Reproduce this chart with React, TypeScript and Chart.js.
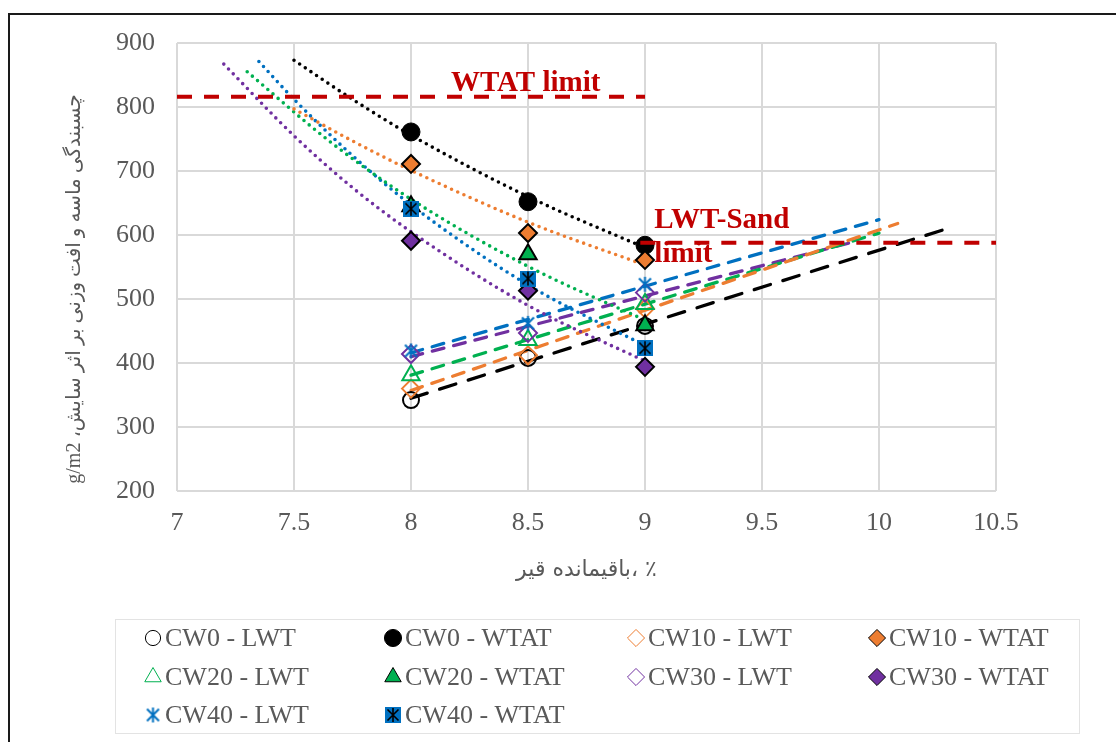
import React, { useEffect, useRef } from 'react';
import { Chart, registerables } from 'chart.js';
import { drawPoint } from 'chart.js/helpers';

Chart.register(...registerables);

const W = 1116;
const H = 742;

// ---- data ----
const xLevels = [8, 8.5, 9];
const cw0LWT = [342, 408, 458];
const cw0WTAT = [761, 652, 584];
const cw10LWT = [360, 412, 485];
const cw10WTAT = [711, 603, 561];
const cw20LWT = [381, 436, 492];
const cw20WTAT = [645, 570, 459];
const cw30LWT = [414, 447, 510];
const cw30WTAT = [591, 513, 394];
const cw40LWT = [419, 462, 523];
const cw40WTAT = [641, 532, 423];

// trend lines as they appear in the picture
const cw0WTATTrendX = [7.5, 7.75, 8, 8.5, 9];
const cw0WTATTrend = [873, 812, 756, 660, 580];
const cw10WTATTrendX = [7.5, 7.75, 8, 8.5, 9];
const cw10WTATTrend = [797, 747, 701, 620, 553];
const cw20WTATTrendX = [7.3, 7.65, 8, 8.5, 9];
const cw20WTATTrend = [855, 747, 656, 551, 467];
const cw30WTATTrendX = [7.2, 7.5, 7.75, 8, 8.5, 9];
const cw30WTATTrend = [867, 755, 674, 605, 490, 403];
const cw40WTATTrendX = [7.35, 7.5, 7.75, 8, 8.5, 9];
const cw40WTATTrend = [871, 812, 724, 647, 522, 427];

const cw0LWTTrendX = [8, 10.3];
const cw0LWTTrend = [345, 611];
const cw10LWTTrendX = [8, 10.08];
const cw10LWTTrend = [357, 618];
const cw20LWTTrendX = [8, 10.0];
const cw20LWTTrend = [381, 603];
const cw30LWTTrendX = [8, 9.9];
const cw30LWTTrend = [410, 590];
const cw40LWTTrendX = [8, 10.0];
const cw40LWTTrend = [416, 624];

// limit lines
const wtatLimitX = [7, 9];
const wtatLimit = [816, 816];
const sandLimitX = [8.98, 10.5];
const sandLimit = [588, 588];

// axis ticks / text
const xMin = 7, xMax = 10.5, xStep = 0.5;
const yMin = 200, yMax = 900, yStep = 100;
const xTitleTokens = ['قیر', ' ', 'باقیمانده', '، ', '٪'];
const yTitle = 'چسبندگی ماسه و افت وزنی بر اثر سایش، g/m2';
const wtatLabel = 'WTAT limit';
const sandLabel1 = 'LWT-Sand';
const sandLabel2 = 'limit';
const wtatLabelAt = { x: 8.49, y: 837 };
const sandLabelAt = { x: 9.04, y: 623 };
const sandLabel2At = { x: 9.04, y: 570 };

const labels = [
  'CW0 - LWT', 'CW0 - WTAT', 'CW10 - LWT', 'CW10 - WTAT',
  'CW20 - LWT', 'CW20 - WTAT', 'CW30 - LWT', 'CW30 - WTAT',
  'CW40 - LWT', 'CW40 - WTAT',
];

const BLACK = '#000000';
const ORANGE = '#ED7D31';
const GREEN = '#00B050';
const PURPLE = '#7030A0';
const BLUE = '#0070C0';
const RED = '#C00000';
const GRID = '#d9d9d9';
const TEXT = '#595959';
const NONE = 'rgba(0,0,0,0)';

function pts(xs: number[], ys: number[]) {
  return xs.map((x, i) => ({ x, y: ys[i] }));
}

function makeStar(filled: boolean): HTMLCanvasElement {
  const s = filled ? 16 : 17;
  const c = document.createElement('canvas');
  c.width = s;
  c.height = s;
  const g = c.getContext('2d')!;
  if (filled) {
    g.fillStyle = BLUE;
    g.fillRect(0, 0, s, s);
    g.strokeStyle = BLACK;
    g.lineWidth = 1.6;
  } else {
    g.strokeStyle = BLUE;
    g.lineWidth = 2;
  }
  const m = 2.5;
  g.beginPath();
  g.moveTo(m, m); g.lineTo(s - m, s - m);
  g.moveTo(s - m, m); g.lineTo(m, s - m);
  g.moveTo(s / 2, 1); g.lineTo(s / 2, s - 1);
  g.stroke();
  return c;
}

export default function App() {
  const ref = useRef<HTMLCanvasElement | null>(null);

  useEffect(() => {
    const canvas = ref.current;
    if (!canvas) return;
    const starLWT = makeStar(false);
    const starWTAT = makeStar(true);

    const markerSpecs: any[] = [
      { data: cw0LWT, style: 'circle', r: 8, bg: NONE, bd: BLACK, bw: 2 },
      { data: cw0WTAT, style: 'circle', r: 9, bg: BLACK, bd: BLACK, bw: 1 },
      { data: cw10LWT, style: 'rectRot', r: 9, bg: NONE, bd: ORANGE, bw: 2 },
      { data: cw10WTAT, style: 'rectRot', r: 9, bg: ORANGE, bd: BLACK, bw: 2 },
      { data: cw20LWT, style: 'triangle', r: 10, bg: NONE, bd: GREEN, bw: 2 },
      { data: cw20WTAT, style: 'triangle', r: 10, bg: GREEN, bd: BLACK, bw: 2 },
      { data: cw30LWT, style: 'rectRot', r: 9, bg: NONE, bd: PURPLE, bw: 2 },
      { data: cw30WTAT, style: 'rectRot', r: 9, bg: PURPLE, bd: BLACK, bw: 2 },
      { data: cw40LWT, style: starLWT, r: 9, bg: NONE, bd: BLUE, bw: 0 },
      { data: cw40WTAT, style: starWTAT, r: 9, bg: NONE, bd: BLACK, bw: 0 },
    ];

    // later series are drawn on top (lower order = drawn later)
    const markerSets = markerSpecs.map((m, i) => ({
      label: labels[i],
      data: pts(xLevels, m.data),
      showLine: false,
      pointStyle: m.style,
      pointRadius: m.r,
      pointBackgroundColor: m.bg,
      pointBorderColor: m.bd,
      pointBorderWidth: m.bw,
      order: 10 - i,
    }));

    const dotted = (xs: number[], ys: number[], color: string) => ({
      label: 'trend',
      data: pts(xs, ys),
      showLine: true,
      pointRadius: 0,
      borderColor: color,
      borderWidth: 3.6,
      borderDash: [0, 6.8],
      borderCapStyle: 'round',
      cubicInterpolationMode: 'monotone',
      fill: false,
      order: 20,
    });
    const dashed = (xs: number[], ys: number[], color: string, dash: number[]) => ({
      label: 'trend',
      data: pts(xs, ys),
      showLine: true,
      pointRadius: 0,
      borderColor: color,
      borderWidth: 3.3,
      borderDash: dash,
      borderCapStyle: 'round',
      fill: false,
      order: 20,
    });
    const limit = (xs: number[], ys: number[]) => ({
      label: 'limit',
      data: pts(xs, ys),
      showLine: true,
      pointRadius: 0,
      borderColor: RED,
      borderWidth: 4,
      borderDash: [15, 12],
      borderCapStyle: 'butt',
      fill: false,
      order: 0,
    });

    const trendSets = [
      dotted(cw0WTATTrendX, cw0WTATTrend, BLACK),
      dotted(cw10WTATTrendX, cw10WTATTrend, ORANGE),
      dotted(cw20WTATTrendX, cw20WTATTrend, GREEN),
      dotted(cw30WTATTrendX, cw30WTATTrend, PURPLE),
      dotted(cw40WTATTrendX, cw40WTATTrend, BLUE),
      dashed(cw0LWTTrendX, cw0LWTTrend, BLACK, [17, 13]),
      dashed(cw10LWTTrendX, cw10LWTTrend, ORANGE, [12, 10]),
      dashed(cw20LWTTrendX, cw20LWTTrend, GREEN, [12, 10]),
      dashed(cw30LWTTrendX, cw30LWTTrend, PURPLE, [12, 10]),
      dashed(cw40LWTTrendX, cw40LWTTrend, BLUE, [12, 10]),
    ];

    const limitSets = [limit(wtatLimitX, wtatLimit), limit(sandLimitX, sandLimit)];

    const decor = {
      id: 'decor',
      afterDatasetsDraw(chart: any) {
        const { ctx } = chart;
        const xs = chart.scales.x;
        const ys = chart.scales.y;
        ctx.save();
        ctx.fillStyle = RED;
        ctx.font = 'bold 29px "Liberation Serif"';
        ctx.textBaseline = 'middle';
        ctx.textAlign = 'center';
        ctx.fillText(wtatLabel, xs.getPixelForValue(wtatLabelAt.x), ys.getPixelForValue(wtatLabelAt.y));
        ctx.textAlign = 'left';
        ctx.fillText(sandLabel1, xs.getPixelForValue(sandLabelAt.x), ys.getPixelForValue(sandLabelAt.y));
        ctx.fillText(sandLabel2, xs.getPixelForValue(sandLabel2At.x), ys.getPixelForValue(sandLabel2At.y));
        ctx.restore();
      },
      afterDraw(chart: any) {
        const { ctx, chartArea } = chart;
        ctx.save();
        // outer frame
        ctx.fillStyle = '#1a1a1a';
        ctx.fillRect(8, 13, 2, H);
        ctx.fillRect(8, 13, W, 2);

        // x axis title, tokens laid out left to right
        ctx.fillStyle = TEXT;
        ctx.font = '22px "DejaVu Sans"';
        ctx.textBaseline = 'middle';
        ctx.textAlign = 'left';
        const widths = xTitleTokens.map((t) => ctx.measureText(t).width);
        const total = widths.reduce((a, b) => a + b, 0);
        let tx = (chartArea.left + chartArea.right) / 2 - total / 2;
        xTitleTokens.forEach((t, i) => {
          ctx.fillText(t, tx, 570);
          tx += widths[i];
        });

        // y axis title
        ctx.font = '20px "Liberation Serif", "DejaVu Sans"';
        ctx.textAlign = 'center';
        ctx.save();
        ctx.translate(75, (chartArea.top + chartArea.bottom) / 2 + 22);
        ctx.rotate(-Math.PI / 2);
        ctx.direction = 'rtl';
        ctx.fillText(yTitle, 0, 0);
        ctx.restore();

        // legend
        ctx.strokeStyle = '#e3e3e3';
        ctx.lineWidth = 1;
        ctx.strokeRect(115.5, 619.5, 964, 114);
        const colX = [153, 393, 636, 877];
        const rowY = [638, 677, 715];
        ctx.font = '26px "Liberation Serif"';
        ctx.textAlign = 'left';
        markerSpecs.forEach((m, i) => {
          const cx = colX[i % 4];
          const cy = rowY[Math.floor(i / 4)];
          ctx.fillStyle = m.bg;
          ctx.strokeStyle = m.bd;
          drawPoint(ctx, { pointStyle: m.style, radius: m.r * 0.95, borderWidth: m.bw, rotation: 0 } as any, cx, cy);
          ctx.fillStyle = TEXT;
          ctx.fillText(labels[i], cx + 12, cy + 1);
        });
        ctx.restore();
      },
    };

    const chart = new Chart(canvas, {
      type: 'scatter',
      data: { datasets: [...markerSets, ...trendSets, ...limitSets] as any },
      options: {
        responsive: false,
        animation: false,
        devicePixelRatio: 1,
        events: [],
        layout: { padding: { left: 60, top: 43, right: 120, bottom: 0 } },
        plugins: { legend: { display: false }, tooltip: { enabled: false } },
        scales: {
          x: {
            type: 'linear',
            min: xMin,
            max: xMax,
            afterFit: (s: any) => { s.height = 251; },
            ticks: {
              stepSize: xStep,
              color: TEXT,
              font: { family: '"Liberation Serif"', size: 26 },
              padding: 17,
              maxRotation: 0,
              callback: (v: any) => String(Number(v)),
            },
            grid: { color: GRID, lineWidth: 2, drawTicks: false },
            border: { display: false },
          },
          y: {
            type: 'linear',
            min: yMin,
            max: yMax,
            afterFit: (s: any) => { s.width = 117; },
            ticks: { stepSize: yStep, color: TEXT, font: { family: '"Liberation Serif"', size: 26 }, padding: 22 },
            grid: { color: GRID, lineWidth: 2, drawTicks: false },
            border: { display: false },
          },
        },
      },
      plugins: [decor],
    });
    return () => chart.destroy();
  }, []);

  return (
    <div style={{ position: 'absolute', left: 0, top: 0, width: W, height: H, background: '#fff' }}>
      <canvas ref={ref} width={W} height={H} style={{ width: W, height: H, display: 'block' }} />
    </div>
  );
}
